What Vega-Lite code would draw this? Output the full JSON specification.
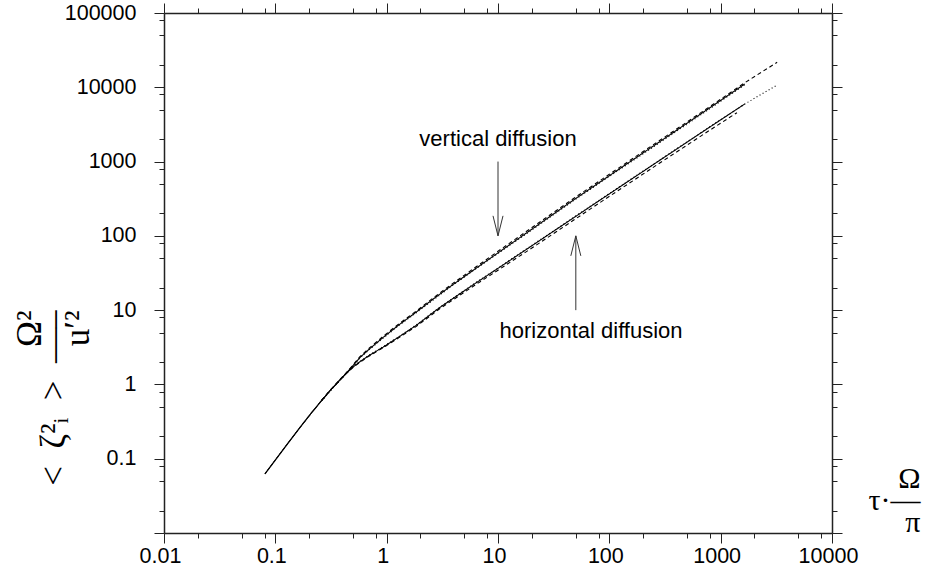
{
  "$schema": "https://vega.github.io/schema/vega-lite/v6.json",
  "width": 668,
  "height": 520,
  "autosize": {"type": "none"},
  "padding": {"left": 164, "top": 13, "right": 93, "bottom": 40},
  "background": "white",
  "config": {
    "view": {"stroke": null},
    "axis": {
      "grid": false,
      "ticks": true,
      "domainColor": "#222",
      "domainWidth": 1.5,
      "tickColor": "#222",
      "tickWidth": 1,
      "tickOpacity": 1,
      "labelFont": "Liberation Sans",
      "labelFontSize": 21.5,
      "labelColor": "black",
      "labelOverlap": false,
      "labelFlush": false,
      "titleFont": "Liberation Serif",
      "titleFontWeight": "normal",
      "titleColor": "black"
    }
  },
  "datasets": {
    "curves": [
      {"series": "V1", "x": 0.0806, "y": 0.0624},
      {"series": "V1", "x": 0.1, "y": 0.096},
      {"series": "V1", "x": 0.13, "y": 0.162},
      {"series": "V1", "x": 0.166, "y": 0.262},
      {"series": "V1", "x": 0.21, "y": 0.41},
      {"series": "V1", "x": 0.26, "y": 0.605},
      {"series": "V1", "x": 0.309, "y": 0.82},
      {"series": "V1", "x": 0.37, "y": 1.1},
      {"series": "V1", "x": 0.436, "y": 1.43},
      {"series": "V1", "x": 0.5, "y": 1.8},
      {"series": "V1", "x": 0.575, "y": 2.3},
      {"series": "V1", "x": 0.7, "y": 3.0},
      {"series": "V1", "x": 0.93, "y": 4.3},
      {"series": "V1", "x": 1.3, "y": 6.4},
      {"series": "V1", "x": 1.86, "y": 9.5},
      {"series": "V1", "x": 2.6, "y": 14},
      {"series": "V1", "x": 3.71, "y": 20.7},
      {"series": "V1", "x": 6, "y": 34.5},
      {"series": "V1", "x": 10, "y": 59},
      {"series": "V1", "x": 20, "y": 122},
      {"series": "V1", "x": 47.7, "y": 304},
      {"series": "V1", "x": 100, "y": 645},
      {"series": "V1", "x": 300, "y": 1960},
      {"series": "V1", "x": 800, "y": 5300},
      {"series": "V1", "x": 1645, "y": 11070},

      {"series": "V2", "x": 0.26, "y": 0.61},
      {"series": "V2", "x": 0.309, "y": 0.83},
      {"series": "V2", "x": 0.37, "y": 1.11},
      {"series": "V2", "x": 0.436, "y": 1.45},
      {"series": "V2", "x": 0.5, "y": 1.84},
      {"series": "V2", "x": 0.575, "y": 2.36},
      {"series": "V2", "x": 0.7, "y": 3.1},
      {"series": "V2", "x": 0.93, "y": 4.45},
      {"series": "V2", "x": 1.3, "y": 6.6},
      {"series": "V2", "x": 1.86, "y": 9.8},
      {"series": "V2", "x": 2.6, "y": 14.5},
      {"series": "V2", "x": 3.71, "y": 21.5},
      {"series": "V2", "x": 6, "y": 36},
      {"series": "V2", "x": 10, "y": 62},
      {"series": "V2", "x": 20, "y": 128},
      {"series": "V2", "x": 47.7, "y": 318},
      {"series": "V2", "x": 100, "y": 675},
      {"series": "V2", "x": 300, "y": 2040},
      {"series": "V2", "x": 800, "y": 5500},
      {"series": "V2", "x": 1645, "y": 11500},
      {"series": "V2", "x": 3215, "y": 21700},

      {"series": "V3", "x": 0.26, "y": 0.6},
      {"series": "V3", "x": 0.309, "y": 0.815},
      {"series": "V3", "x": 0.436, "y": 1.42},
      {"series": "V3", "x": 0.5, "y": 1.78},
      {"series": "V3", "x": 0.575, "y": 2.27},
      {"series": "V3", "x": 0.7, "y": 2.95},
      {"series": "V3", "x": 0.93, "y": 4.2},
      {"series": "V3", "x": 1.3, "y": 6.3},
      {"series": "V3", "x": 1.86, "y": 9.3},
      {"series": "V3", "x": 3.71, "y": 20.3},
      {"series": "V3", "x": 6, "y": 34},
      {"series": "V3", "x": 10, "y": 58},
      {"series": "V3", "x": 20, "y": 119},
      {"series": "V3", "x": 47.7, "y": 298},
      {"series": "V3", "x": 100, "y": 630},
      {"series": "V3", "x": 300, "y": 1900},
      {"series": "V3", "x": 800, "y": 5150},
      {"series": "V3", "x": 1645, "y": 10800},

      {"series": "H1", "x": 0.0806, "y": 0.0624},
      {"series": "H1", "x": 0.1, "y": 0.096},
      {"series": "H1", "x": 0.13, "y": 0.162},
      {"series": "H1", "x": 0.166, "y": 0.262},
      {"series": "H1", "x": 0.21, "y": 0.41},
      {"series": "H1", "x": 0.26, "y": 0.605},
      {"series": "H1", "x": 0.309, "y": 0.82},
      {"series": "H1", "x": 0.37, "y": 1.1},
      {"series": "H1", "x": 0.436, "y": 1.42},
      {"series": "H1", "x": 0.5, "y": 1.72},
      {"series": "H1", "x": 0.575, "y": 2.02},
      {"series": "H1", "x": 0.7, "y": 2.47},
      {"series": "H1", "x": 0.93, "y": 3.18},
      {"series": "H1", "x": 1.3, "y": 4.4},
      {"series": "H1", "x": 1.86, "y": 6.3},
      {"series": "H1", "x": 3.01, "y": 10.9},
      {"series": "H1", "x": 6, "y": 22},
      {"series": "H1", "x": 10, "y": 36.5},
      {"series": "H1", "x": 20, "y": 73},
      {"series": "H1", "x": 82.8, "y": 304},
      {"series": "H1", "x": 300, "y": 1100},
      {"series": "H1", "x": 800, "y": 2920},
      {"series": "H1", "x": 1645, "y": 5960},

      {"series": "H2", "x": 0.26, "y": 0.61},
      {"series": "H2", "x": 0.309, "y": 0.825},
      {"series": "H2", "x": 0.436, "y": 1.41},
      {"series": "H2", "x": 0.5, "y": 1.7},
      {"series": "H2", "x": 0.575, "y": 1.98},
      {"series": "H2", "x": 0.7, "y": 2.42},
      {"series": "H2", "x": 0.93, "y": 3.12},
      {"series": "H2", "x": 1.3, "y": 4.3},
      {"series": "H2", "x": 1.86, "y": 6.1},
      {"series": "H2", "x": 3.01, "y": 10.5},
      {"series": "H2", "x": 6, "y": 21},
      {"series": "H2", "x": 10, "y": 34.5},
      {"series": "H2", "x": 20, "y": 68},
      {"series": "H2", "x": 82.8, "y": 282},
      {"series": "H2", "x": 300, "y": 1010},
      {"series": "H2", "x": 800, "y": 2650},
      {"series": "H2", "x": 1400, "y": 4550},

      {"series": "H3", "x": 0.26, "y": 0.6},
      {"series": "H3", "x": 0.436, "y": 1.43},
      {"series": "H3", "x": 0.5, "y": 1.74},
      {"series": "H3", "x": 0.575, "y": 2.05},
      {"series": "H3", "x": 0.7, "y": 2.5},
      {"series": "H3", "x": 0.93, "y": 3.22},
      {"series": "H3", "x": 1.3, "y": 4.45},
      {"series": "H3", "x": 1.86, "y": 6.4},
      {"series": "H3", "x": 3.01, "y": 11},
      {"series": "H3", "x": 6, "y": 22.3},
      {"series": "H3", "x": 10, "y": 37},
      {"series": "H3", "x": 20, "y": 74},
      {"series": "H3", "x": 82.8, "y": 308},
      {"series": "H3", "x": 300, "y": 1110},
      {"series": "H3", "x": 800, "y": 2950},
      {"series": "H3", "x": 1645, "y": 5950},
      {"series": "H3", "x": 3215, "y": 10740}
    ],
    "arrows": [
      {"x": 10, "y": 1000, "y2": 100, "dir": "down"},
      {"x": 50, "y": 10, "y2": 100, "dir": "up"}
    ],
    "labels": [
      {"label": "vertical diffusion", "x": 10, "y": 2000},
      {"label": "horizontal diffusion", "x": 68.5, "y": 5.28}
    ]
  },
  "layer": [
    {
      "data": {"name": "curves"},
      "mark": {"type": "line", "color": "black", "strokeWidth": 1.1},
      "encoding": {
        "x": {
          "field": "x", "type": "quantitative",
          "scale": {"type": "log", "domain": [0.01, 10000], "nice": false},
          "axis": {
            "orient": "bottom",
            "values": [0.01, 0.1, 1, 10, 100, 1000, 10000],
            "format": "~g",
            "ticks": true,
            "tickSize": 10,
            "labelPadding": 2,
            "labelOffset": -4,
            "title": ["Ω\u2009", "τ·—", "π\u2009"],
            "titleFontSize": 30,
            "titleAngle": 0,
            "titleAlign": "right",
            "titleBaseline": "alphabetic",
            "titleLineHeight": 22,
            "titleX": 756,
            "titleY": -46
          }
        },
        "y": {
          "field": "y", "type": "quantitative",
          "scale": {"type": "log", "domain": [0.01, 100000], "nice": false},
          "axis": {
            "orient": "left",
            "values": [0.01, 0.1, 1, 10, 100, 1000, 10000, 100000],
            "labelExpr": "datum.value < 0.05 ? '' : format(datum.value, '~g')",
            "ticks": true,
            "tickSize": 10,
            "labelPadding": 18,
            "title": ["Ω²\u2009", "<\u2002ζ²ᵢ\u2002>\u2002—–", "u′²\u2009"],
            "titleFontSize": 35,
            "titleAngle": -90,
            "titleAlign": "right",
            "titleBaseline": "alphabetic",
            "titleLineHeight": 24,
            "titleX": -124,
            "titleY": 297
          }
        },
        "detail": {"field": "series", "type": "nominal"},
        "strokeDash": {
          "field": "series", "type": "nominal",
          "scale": {"domain": ["V1","V2","V3","H1","H2","H3"], "range": [[1,0],[4,3],[1,2.5],[1,0],[4,3],[1,2.5]]},
          "legend": null
        }
      }
    },
    {
      "data": {"name": "arrows"},
      "mark": {"type": "rule", "color": "#333", "strokeWidth": 1},
      "encoding": {
        "x": {
          "field": "x", "type": "quantitative",
          "scale": {"type": "log", "domain": [0.01, 10000], "nice": false},
          "axis": {
            "orient": "top",
            "values": [0.01, 0.1, 1, 10, 100, 1000, 10000],
            "labels": false,
            "ticks": true,
            "tickSize": 10,
            "title": null
          }
        },
        "y": {
          "field": "y", "type": "quantitative",
          "scale": {"type": "log", "domain": [0.01, 100000], "nice": false},
          "axis": {
            "orient": "right",
            "values": [0.01, 0.1, 1, 10, 100, 1000, 10000, 100000],
            "labels": false,
            "ticks": true,
            "tickSize": 10,
            "title": null
          }
        },
        "y2": {"field": "y2"}
      }
    },
    {
      "data": {"name": "arrows"},
      "mark": {"type": "point", "filled": false, "stroke": "#333", "strokeWidth": 1, "size": 400, "opacity": 1},
      "encoding": {
        "x": {
          "field": "x", "type": "quantitative",
          "scale": {"type": "log", "domain": [0.01, 10000], "nice": false},
          "axis": {
            "orient": "bottom",
            "values": [0.02,0.05,0.08,0.2,0.5,0.8,2,5,8,20,50,80,200,500,800,2000,5000,8000],
            "labels": false,
            "domain": false,
            "ticks": true,
            "tickSize": 5,
            "title": null
          }
        },
        "y": {
          "field": "y2", "type": "quantitative",
          "scale": {"type": "log", "domain": [0.01, 100000], "nice": false},
          "axis": {
            "orient": "left",
            "values": [0.02,0.05,0.08,0.2,0.5,0.8,2,5,8,20,50,80,200,500,800,2000,5000,8000,20000,50000,80000],
            "labels": false,
            "domain": false,
            "ticks": true,
            "tickSize": 5,
            "title": null
          }
        },
        "shape": {
          "field": "dir", "type": "nominal",
          "scale": {"domain": ["down", "up"], "range": ["M-0.5,-2L0,0L0.5,-2", "M-0.5,2L0,0L0.5,2"]},
          "legend": null
        }
      }
    },
    {
      "data": {"name": "labels"},
      "mark": {"type": "text", "font": "Liberation Sans", "fontSize": 22, "align": "center", "baseline": "middle", "color": "black"},
      "encoding": {
        "x": {
          "field": "x", "type": "quantitative",
          "scale": {"type": "log", "domain": [0.01, 10000], "nice": false},
          "axis": {
            "orient": "top",
            "values": [0.02,0.05,0.08,0.2,0.5,0.8,2,5,8,20,50,80,200,500,800,2000,5000,8000],
            "labels": false,
            "domain": false,
            "ticks": true,
            "tickSize": 5,
            "title": null
          }
        },
        "y": {
          "field": "y", "type": "quantitative",
          "scale": {"type": "log", "domain": [0.01, 100000], "nice": false},
          "axis": {
            "orient": "right",
            "values": [0.02,0.05,0.08,0.2,0.5,0.8,2,5,8,20,50,80,200,500,800,2000,5000,8000,20000,50000,80000],
            "labels": false,
            "domain": false,
            "ticks": true,
            "tickSize": 5,
            "title": null
          }
        },
        "text": {"field": "label"}
      }
    }
  ],
  "resolve": {"axis": {"x": "independent", "y": "independent"}}
}
